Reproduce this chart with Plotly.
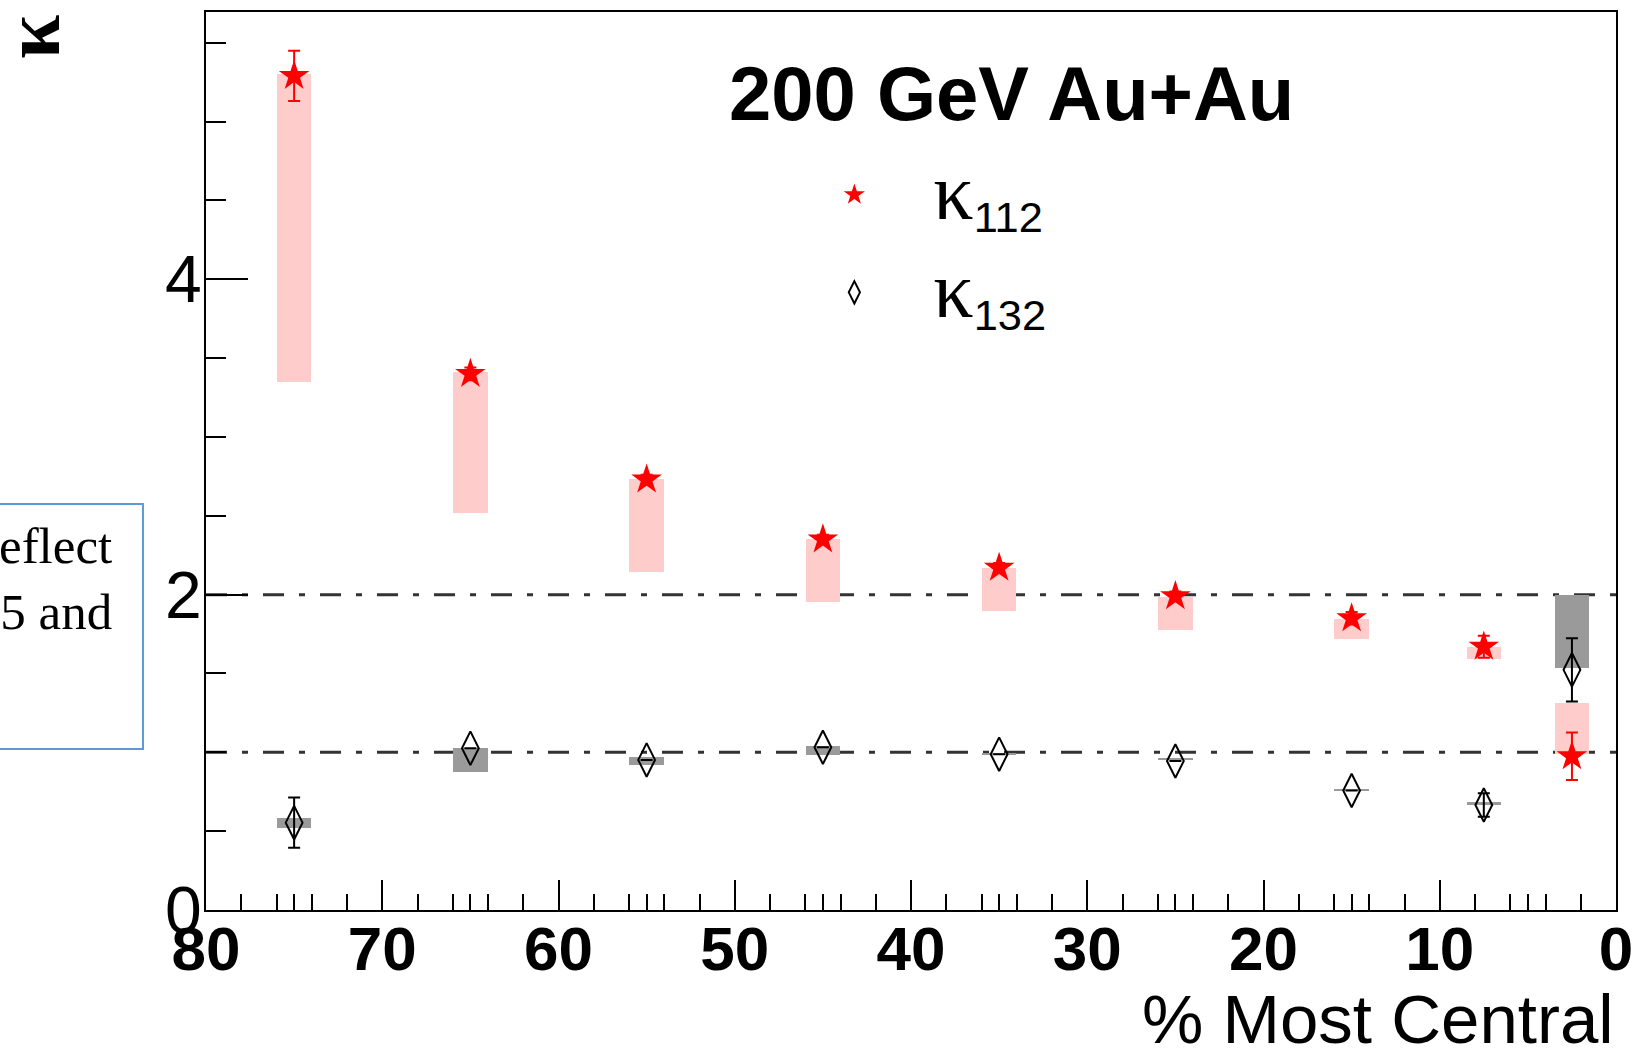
import plotly.graph_objects as go

# Centrality bin centres (% most central)
centrality = [75, 65, 55, 45, 35, 25, 15, 7.5, 2.5]

# kappa_112: values, statistical errors, systematic band (low/high edges)
k112 = [5.29, 3.40, 2.73, 2.35, 2.17, 1.99, 1.85, 1.67, 0.975]
k112_stat = [0.16, 0.04, 0.03, 0.03, 0.03, 0.03, 0.04, 0.07, 0.15]
k112_sys_low = [3.35, 2.52, 2.145, 1.956, 1.898, 1.777, 1.718, 1.593, 0.99]
k112_sys_high = [5.30, 3.41, 2.735, 2.354, 2.168, 1.985, 1.846, 1.668, 1.311]

# kappa_132: values, statistical errors (those smaller than the marker are left at zero),
# systematic band edges
k132 = [0.554, 1.026, 0.952, 1.032, 0.988, 0.945, 0.758, 0.666, 1.523]
k132_stat = [0.16, 0.0, 0.0, 0.0, 0.0, 0.0, 0.0, 0.075, 0.20]
k132_sys_low = [0.522, 0.878, 0.920, 0.985, 0.983, 0.953, 0.755, 0.672, 1.534]
k132_sys_high = [0.582, 1.026, 0.969, 1.040, 0.993, 0.963, 0.765, 0.682, 2.000]

# Reference levels drawn as dash-dotted lines
ref_levels = [1.0, 2.0]

x_major = [0, 10, 20, 30, 40, 50, 60, 70, 80]
x_minor = [d + o for d in range(0, 80, 10) for o in (2, 4, 5, 6, 8)]
y_major = [0, 2, 4]
y_minor = [0.5, 1.0, 1.5, 2.5, 3.0, 3.5, 4.5, 5.0, 5.5]

BOX_W = 1.95

fig = go.Figure()

# Systematic uncertainty boxes
fig.add_trace(go.Bar(
    x=centrality,
    y=[h - l for l, h in zip(k112_sys_low, k112_sys_high)],
    base=k112_sys_low,
    width=BOX_W,
    marker=dict(color="#ffcccc", line=dict(width=0)),
    showlegend=False, hoverinfo="skip",
))
fig.add_trace(go.Bar(
    x=centrality,
    y=[h - l for l, h in zip(k132_sys_low, k132_sys_high)],
    base=k132_sys_low,
    width=BOX_W,
    marker=dict(color="#9a9a9a", line=dict(width=0)),
    showlegend=False, hoverinfo="skip",
))

kappa = "<span style='font-family:Liberation Serif;font-size:80px'>κ</span>"

fig.add_trace(go.Scatter(
    x=centrality, y=k112, mode="markers",
    name=kappa + "<sub>112</sub>", legendgroup="a",
    marker=dict(symbol="star", size=23, color="#ff0000", line=dict(width=0)),
    error_y=dict(type="data", array=k112_stat, color="#ff0000", thickness=2, width=6),
))
fig.add_trace(go.Scatter(
    x=centrality, y=k132, mode="markers",
    name=kappa + "<sub>132</sub>", legendgroup="b",
    marker=dict(symbol="diamond-tall-open", size=24, color="#000000",
                line=dict(width=2, color="#000000")),
    error_y=dict(type="data", array=k132_stat, color="#000000", thickness=2, width=6),
))

for lvl in ref_levels:
    fig.add_shape(type="line", xref="x", yref="y", x0=80, x1=0, y0=lvl, y1=lvl,
                  line=dict(color="#333333", width=3, dash="21px,15px,6px,15px"),
                  layer="below")

# Text box partially visible at the left edge
fig.add_shape(type="rect", xref="paper", yref="paper",
              x0=-0.2, x1=-0.0447, y0=0.1793, y1=0.4521,
              line=dict(color="#5b9bd5", width=2), fillcolor="rgba(0,0,0,0)")
fig.add_annotation(xref="paper", yref="paper", x=-0.0653, y=0.369,
                   xanchor="right", yanchor="middle", align="right", showarrow=False,
                   text="eflect<br>5 and",
                   font=dict(family="Liberation Serif", size=51, color="#000000"))

fig.add_annotation(xref="paper", yref="paper", x=0.5714, y=0.9087,
                   xanchor="center", yanchor="middle", showarrow=False,
                   text="<b>200 GeV Au+Au</b>",
                   font=dict(family="Liberation Sans", size=76, color="#000000"))

fig.add_annotation(xref="paper", yref="paper", x=1.0, y=-0.1222,
                   xanchor="right", yanchor="middle", showarrow=False,
                   text="% Most Central",
                   font=dict(family="Liberation Sans", size=69, color="#000000"))

fig.add_annotation(xref="paper", yref="paper", x=-0.1235, y=0.972,
                   xanchor="center", yanchor="middle", showarrow=False, textangle=-90,
                   text="<b>κ</b>",
                   font=dict(family="Liberation Serif", size=80, color="#000000"))

fig.update_layout(
    width=1636, height=1053,
    margin=dict(l=206, r=20, t=12, b=143),
    paper_bgcolor="white", plot_bgcolor="white",
    barmode="overlay", bargap=0,
    font=dict(family="Liberation Sans", color="#000000"),
    showlegend=True,
    legend=dict(x=0.4038, y=0.8486, xanchor="left", yanchor="top",
                bgcolor="rgba(0,0,0,0)", borderwidth=0,
                itemwidth=148, tracegroupgap=14, traceorder="grouped",
                font=dict(family="Liberation Sans", size=62, color="#000000")),
)

fig.update_xaxes(
    range=[80, 0], showgrid=False, zeroline=False, automargin=False,
    showline=True, linecolor="#000000", linewidth=2, mirror=True,
    tickmode="array", tickvals=x_major, ticktext=[str(v) for v in x_major],
    ticks="inside", ticklen=30, tickwidth=2, tickcolor="#000000",
    tickfont=dict(family="Liberation Sans", size=62, weight="bold", color="#000000"),
    ticklabelstandoff=-16,
    minor=dict(tickmode="array", tickvals=x_minor, ticks="inside", ticklen=16,
               tickwidth=2, tickcolor="#000000", showgrid=False),
)
fig.update_yaxes(
    range=[0, 5.695], showgrid=False, zeroline=False, automargin=False,
    showline=True, linecolor="#000000", linewidth=2, mirror=True,
    tickmode="array", tickvals=y_major, ticktext=[str(v) for v in y_major],
    ticks="inside", ticklen=42, tickwidth=2, tickcolor="#000000",
    tickfont=dict(family="Liberation Sans", size=66, color="#000000"),
    ticklabelstandoff=-11,
    minor=dict(tickmode="array", tickvals=y_minor, ticks="inside", ticklen=20,
               tickwidth=2, tickcolor="#000000", showgrid=False),
)

fig.write_html("out.html")
